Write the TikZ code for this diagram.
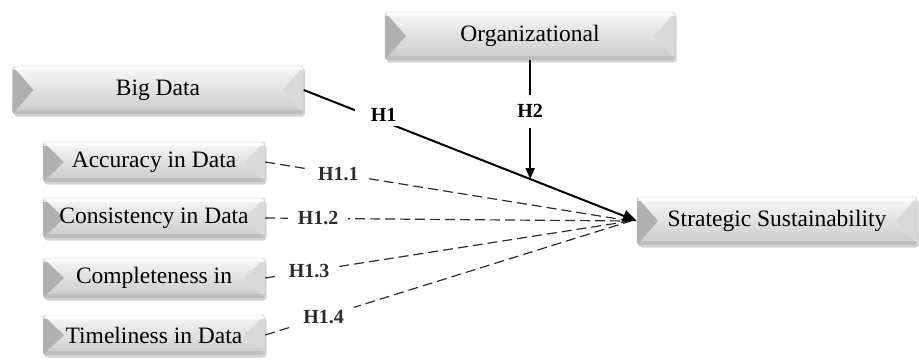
\documentclass[tikz,border=0pt]{standalone}
\usepackage{fontspec}
\setmainfont{Liberation Serif}
\usetikzlibrary{arrows.meta,shadows}

\begin{document}
\begin{tikzpicture}[x=1pt,y=-1pt]
	\tikzstyle{every node}=[font=\fontsize{23.5}{26}\selectfont]
	\tikzstyle{knopf}=[rounded corners=3pt, draw=gray!45, top color=gray!6, bottom color=gray!42,
		inner sep=0pt, minimum height=48pt,
		drop shadow={shadow xshift=1.5pt,shadow yshift=-2.5pt,opacity=.35},
		path picture={
			\fill[gray!62,sharp corners] (path picture bounding box.north west) -- ([xshift=21pt]path picture bounding box.west) -- (path picture bounding box.south west) -- cycle;
			\fill[gray!30,sharp corners] (path picture bounding box.north east) -- ([xshift=-21pt]path picture bounding box.east) -- (path picture bounding box.south east) -- cycle;
			\fill[white,opacity=.7,sharp corners] (path picture bounding box.north west) rectangle ([yshift=-4pt]path picture bounding box.north east);
			\fill[gray!60,opacity=.5,sharp corners] (path picture bounding box.south west) rectangle ([yshift=4pt]path picture bounding box.south east);
		}]
	\tikzstyle{klein}=[knopf, minimum width=222pt, minimum height=40pt]
	\tikzstyle{hyp}=[fill=white, font=\fontsize{20}{22}\selectfont\bfseries, inner xsep=10pt, inner ysep=3pt]
	\tikzstyle{strich}=[dash pattern=on 10pt off 5pt, gray!35!black, line width=1.2pt]
	
	\useasboundingbox (0,0) rectangle (919,360);
	
	%Kästen
	\node[knopf, minimum width=291pt] (bd) at (158,90) {Big Data};
	\node[knopf, minimum width=290pt] (org) at (530,36) {Organizational};
	\node[klein] (acc) at (154,162) {Accuracy in Data};
	\node[klein] (con) at (154,218) {Consistency in Data};
	\node[klein] (com) at (154,278) {Completeness in};
	\node[klein] (tim) at (154,335) {Timeliness in Data};
	\node[knopf, minimum width=280pt] (ss) at (777,221) {Strategic Sustainability};
	
	%gestrichelte Linien
	\draw[strich] (acc.east) -- node[hyp,pos=.2]{H1.1} ([xshift=-6pt]ss.west);
	\draw[strich] (con.east) -- node[hyp,pos=.145]{H1.2} ([xshift=-6pt]ss.west);
	\draw[strich] (com.east) -- node[hyp,pos=.12]{H1.3} ([xshift=-6pt]ss.west);
	\draw[strich] (tim.east) -- node[hyp,pos=.16]{H1.4} ([xshift=-6pt]ss.west);
	
	%Pfeile
	\draw[line width=2pt,-{Triangle[length=14pt,width=12pt]}] (bd.east) -- node[hyp,pos=.24,yshift=7pt,inner xsep=16pt,inner ysep=5pt]{H1} coordinate[pos=.68] (mod) (ss.west);
	\draw[line width=2pt,-{Triangle[length=11pt,width=9pt]}] (org.south -| mod) -- node[hyp,pos=.43,inner ysep=10pt]{H2} (mod);
	
\end{tikzpicture}
\end{document}
